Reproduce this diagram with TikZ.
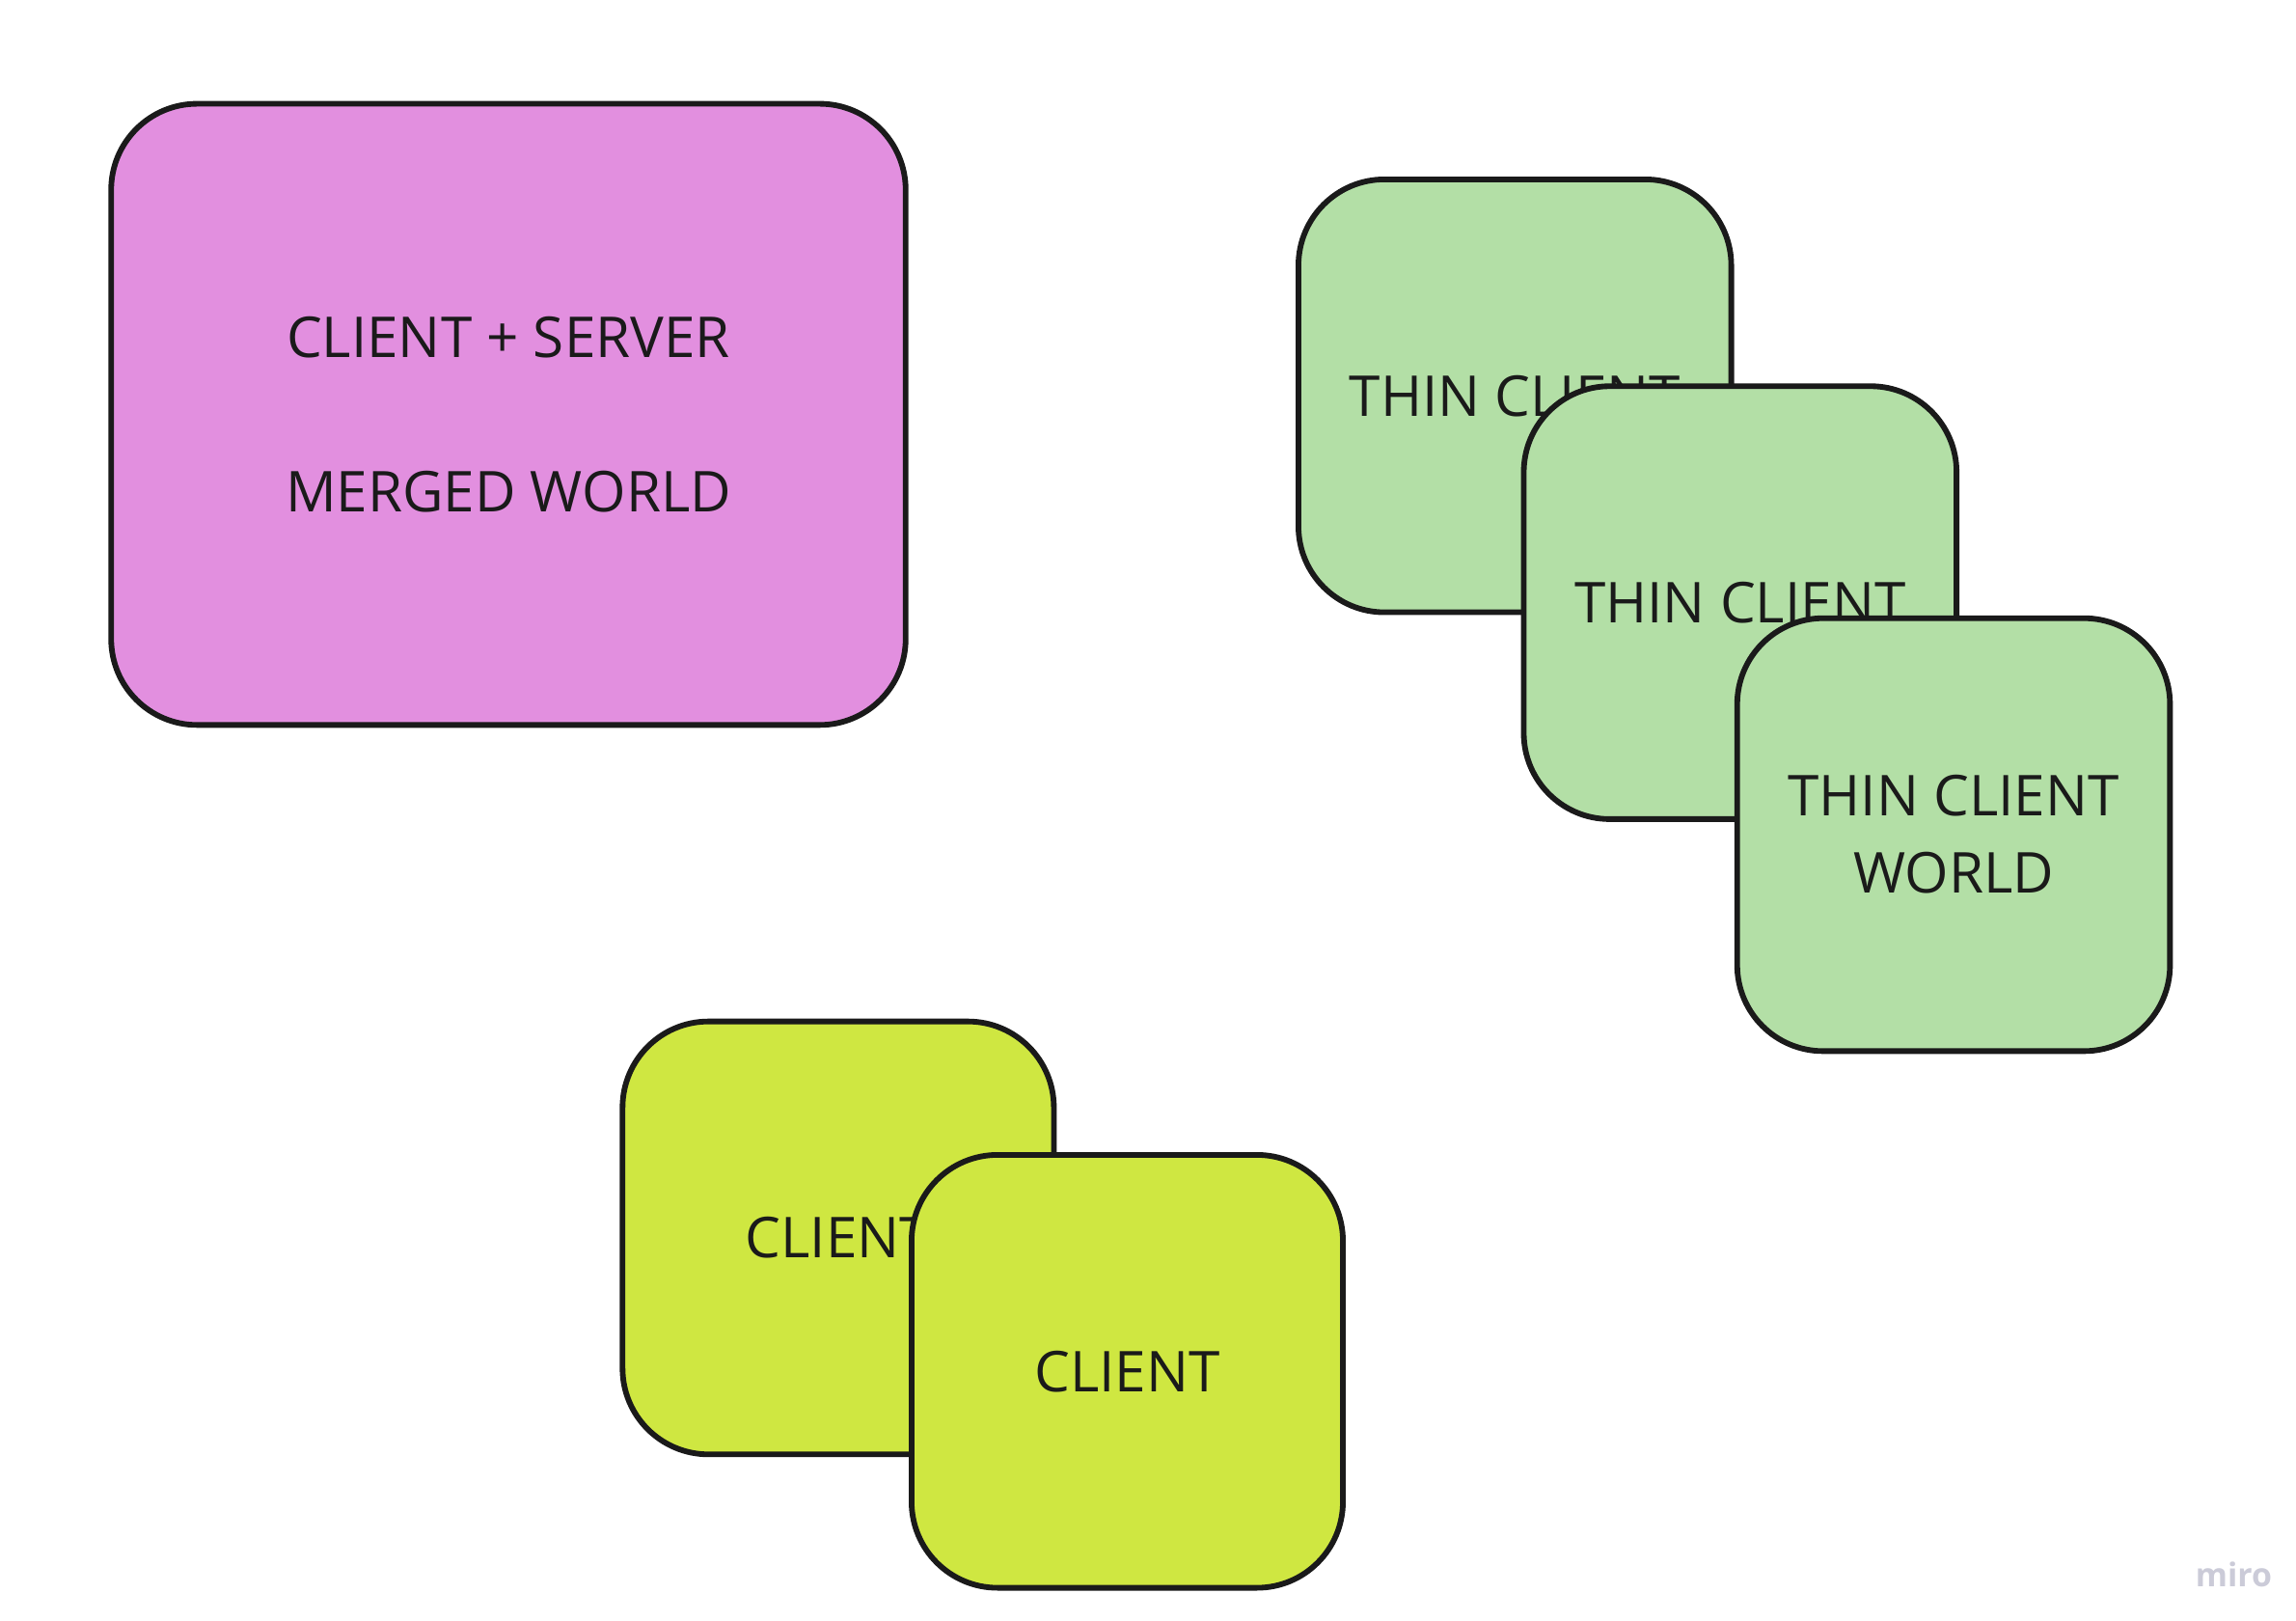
\documentclass[tikz,border=0pt]{standalone}
\usepackage{fontspec}
\setmainfont{Open Sans}
\definecolor{pinkfill}{HTML}{E28FDF}
\definecolor{greenfill}{HTML}{B3DFA6}
\definecolor{yellowfill}{HTML}{CFE741}
\definecolor{edgecol}{HTML}{1A1A1A}
\definecolor{txtcol}{HTML}{1A1A1A}
\definecolor{logocol}{HTML}{CBCBD8}
\begin{document}
\begin{tikzpicture}[x=0.5pt,y=-0.5pt,
  card/.style={draw=edgecol,line width=1.9pt,rounded corners=29pt,
    inner sep=0pt,align=center,text=txtcol,
    font=\fontsize{19}{26}\selectfont},
  pinkcard/.style={card,fill=pinkfill,minimum width=268pt,minimum height=209.5pt},
  greencard/.style={card,fill=greenfill,minimum width=146pt,minimum height=146pt},
  yellowcard/.style={card,fill=yellowfill,minimum width=145.5pt,minimum height=146pt}]
\useasboundingbox (0,0) rectangle (1549,1093.3);
\fill[white] (0,0) rectangle (1549,1093.3);
\node[pinkcard] (merged) at (343,279.5) {CLIENT + SERVER\\[26pt]MERGED WORLD};
\node[greencard] (thin1) at (1022,267) {THIN CLIENT};
\node[greencard] (thin2) at (1174,406.5) {THIN CLIENT};
\node[greencard] (thin3) at (1318,563) {THIN CLIENT\\WORLD};
\node[yellowcard] (client1) at (565.5,835) {CLIENT};
\node[yellowcard] (client2) at (760.5,925) {CLIENT};
\node[text=logocol,font=\fontsize{11}{13}\selectfont\bfseries] (logo) at (1507,1062) {miro};
\end{tikzpicture}
\end{document}
